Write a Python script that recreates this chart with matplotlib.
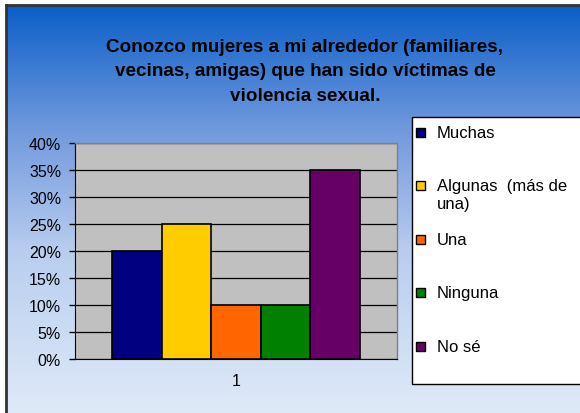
import numpy as np
import matplotlib.pyplot as plt
from matplotlib.colors import LinearSegmentedColormap
from matplotlib.patches import Rectangle

# === DATA ===
categories = ['Muchas', 'Algunas  (más de\nuna)', 'Una', 'Ninguna', 'No sé']
values = [0.20, 0.25, 0.10, 0.10, 0.35]
colors = ['#000080', '#ffcc00', '#ff6600', '#008000', '#660066']
yticks = [0, 0.05, 0.10, 0.15, 0.20, 0.25, 0.30, 0.35, 0.40]
title = ('Conozco mujeres a mi alrededor (familiares,\n'
         'vecinas, amigas) que han sido víctimas de\n'
         'violencia sexual.')

plt.rcParams['font.family'] = ['Liberation Sans', 'DejaVu Sans']

W, H = 580, 414
fig = plt.figure(figsize=(W / 100, H / 100), dpi=100)
fig.patch.set_facecolor('white')

# === gradient background ===
bg = fig.add_axes([6 / W, 0, 1 - 6 / W, 1 - 6 / H], zorder=0)
cmap = LinearSegmentedColormap.from_list(
    'bg', [(0.0, '#0a5fc8'), (0.30, '#6f98dd'), (0.60, '#b8cdef'), (1.0, '#dfeaf8')])
grad = np.linspace(0, 1, 256).reshape(-1, 1)
bg.imshow(grad, aspect='auto', cmap=cmap, extent=[0, 1, 0, 1], origin='upper')
bg.set_xlim(0, 1)
bg.set_ylim(0, 1)
bg.set_xticks([])
bg.set_yticks([])
for side, sp in bg.spines.items():
    sp.set_color('#333333')
    sp.set_linewidth(2)
bg.spines['right'].set_visible(False)
bg.spines['bottom'].set_visible(False)

# === title ===
fig.text(305 / W, 1 - 72 / H, title, ha='center', va='center',
         fontsize=13.6, fontweight='bold', linespacing=1.56, zorder=5)

# === bar chart ===
ax = fig.add_axes([75 / W, (H - 360) / H, 322 / W, 216 / H], zorder=2)
ax.set_facecolor('#c0c0c0')
n = len(values)
bw = 0.154
x0 = -bw * n / 2 + bw / 2
for i, (v, c) in enumerate(zip(values, colors)):
    ax.bar(x0 + i * bw, v, width=bw, color=c, edgecolor='black', linewidth=1.2, zorder=3)
ax.set_xlim(-0.5, 0.5)
ax.set_ylim(0, 0.40)
ax.set_yticks(yticks)
ax.set_yticklabels([f'{int(round(t * 100))}%' for t in yticks], fontsize=11.5)
ax.set_xticks([0])
ax.set_xticklabels(['1'], fontsize=11.5)
ax.tick_params(axis='x', length=0, pad=10)
ax.tick_params(axis='y', length=4, width=1, direction='out', pad=6)
ax.yaxis.grid(True, color='black', linewidth=0.9)
ax.set_axisbelow(True)
for side in ['top', 'right']:
    ax.spines[side].set_color('#808080')
    ax.spines[side].set_linewidth(1)
ax.spines['left'].set_color('black')
ax.spines['bottom'].set_color('black')

# === legend box ===
lx0, ly0, lx1, ly1 = 412, 118, 620, 385
fig.patches.append(Rectangle((lx0 / W, 1 - ly1 / H), (lx1 - lx0) / W, (ly1 - ly0) / H,
                             transform=fig.transFigure, facecolor='white',
                             edgecolor='black', linewidth=1, zorder=3))
entry_y = [133, 186, 240, 293, 347]
for lab, c, ey in zip(categories, colors, entry_y):
    fig.patches.append(Rectangle((416 / W, 1 - (ey + 4.5) / H), 9 / W, 9 / H,
                                 transform=fig.transFigure, facecolor=c,
                                 edgecolor='black', linewidth=1, zorder=4))
    fig.text(437 / W, 1 - (ey - 7) / H, lab, ha='left', va='top',
             fontsize=12, linespacing=1.25, zorder=5)

fig.savefig('out.png', dpi=100)
